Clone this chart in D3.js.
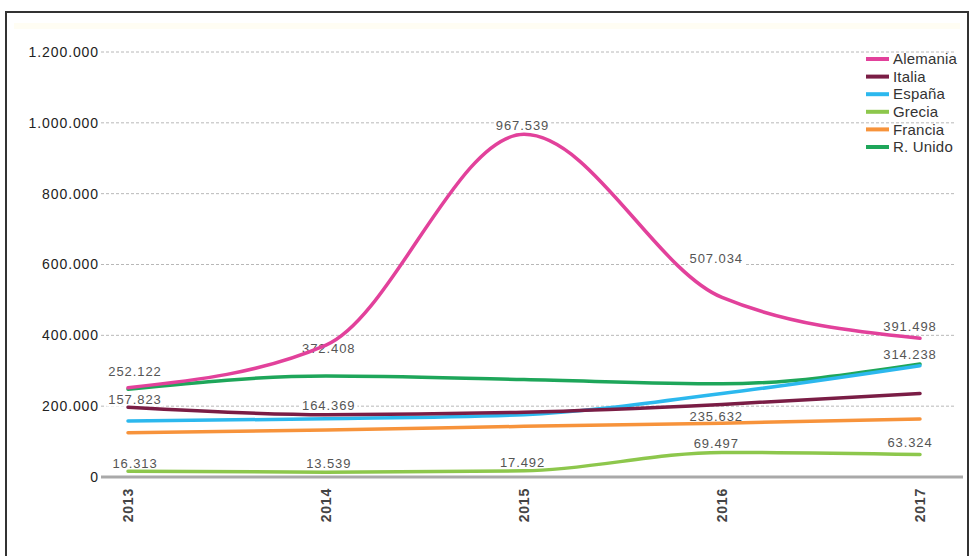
<!DOCTYPE html>
<html>
<head>
<meta charset="utf-8">
<script src="https://cdn.jsdelivr.net/npm/d3@7"></script>
<style>
  html, body { margin: 0; padding: 0; background: #fff; }
  svg { display: block; font-family: "Liberation Sans", Arial, sans-serif; }
</style>
</head>
<body>
<svg id="chart" width="970" height="556"></svg>
<script>
// ---- data ----
const years = ["2013", "2014", "2015", "2016", "2017"];
const seriesNames = ["Alemania", "Italia", "España", "Grecia", "Francia", "R. Unido"];
const alemania = [252122, 372408, 967539, 507034, 391498];
const italia   = [197000, 176000, 183000, 205000, 236000];
const espana   = [157823, 164369, 176000, 235632, 314238];
const grecia   = [16313, 13539, 17492, 69497, 63324];
const francia  = [125000, 133000, 143000, 152000, 164000];
const rUnido   = [248000, 285000, 275000, 263000, 319000];
const yTicks   = [0, 200000, 400000, 600000, 800000, 1000000, 1200000];
const labeledSeries = ["Alemania", "España", "Grecia"];
const labelSkip = { "España": ["2015"] };

// ---- styles / layout ----
const colors = {
  "Alemania": "#e2419b", "Italia": "#7a1d45", "España": "#2cb8ee",
  "Grecia": "#8dc74c", "Francia": "#f7933b", "R. Unido": "#1ea65a"
};
const labelDy = {
  "Alemania": [-16, 3, -9, -39, -12],
  "España":   [-22, -13, 0, 23, -11],
  "Grecia":   [-8, -9, -8, -9, -12]
};

const valuesByName = {
  "Alemania": alemania, "Italia": italia, "España": espana,
  "Grecia": grecia, "Francia": francia, "R. Unido": rUnido
};
const series = seriesNames.map(n => ({ name: n, values: valuesByName[n] }));

const svg = d3.select("#chart");
const loc = d3.formatLocale({ decimal: ",", thousands: ".", grouping: [3], currency: ["", ""] });
const fmt = loc.format(",d");

const x = d3.scalePoint().domain(years).range([128, 920]);
const xLabel = d3.scalePoint().domain(years).range([135, 910]);
const y = d3.scaleLinear().domain([0, 1200000]).range([477, 52]);

// frame
svg.append("rect").attr("x", 6).attr("y", 12).attr("width", 962).attr("height", 560)
  .attr("fill", "none").attr("stroke", "#333").attr("stroke-width", 2);
svg.append("rect").attr("x", 14).attr("y", 23).attr("width", 946).attr("height", 6)
  .attr("fill", "#fffdf3");

// gridlines
svg.append("g").selectAll("line").data(yTicks.filter(d => d > 0)).join("line")
  .attr("x1", 101).attr("x2", 955)
  .attr("y1", d => y(d)).attr("y2", d => y(d))
  .attr("stroke", "#b8b8b8").attr("stroke-width", 1).attr("stroke-dasharray", "3,2");

// y axis labels
const yAxis = d3.axisLeft(y).tickValues(yTicks).tickFormat(d => fmt(d)).tickSize(0).tickPadding(0);
const yg = svg.append("g").attr("transform", "translate(99,0)").call(yAxis);
yg.select(".domain").remove();
yg.selectAll("text").attr("font-size", 14).attr("fill", "#222")
  .attr("letter-spacing", "0.9px").attr("font-family", "Liberation Sans, Arial, sans-serif");

// baseline
svg.append("line").attr("x1", 101).attr("x2", 963).attr("y1", y(0)).attr("y2", y(0))
  .attr("stroke", "#a9a9a9").attr("stroke-width", 3);

// x axis labels
const xAxis = d3.axisBottom(x).tickSize(0).tickPadding(0);
const xg = svg.append("g").attr("transform", "translate(0,488)").call(xAxis);
xg.select(".domain").remove();
xg.selectAll("text")
  .attr("transform", "rotate(-90)")
  .attr("text-anchor", "end").attr("dy", "0.35em").attr("y", 0).attr("x", 0)
  .attr("font-size", 14).attr("font-weight", "bold").attr("fill", "#444")
  .attr("letter-spacing", "0.8px").attr("font-family", "Liberation Sans, Arial, sans-serif");
xg.selectAll(".tick").attr("transform", d => `translate(${x(d)},0)`);

// data labels (behind lines, with white backgrounds)
const labelG = svg.append("g");
labeledSeries.forEach(name => {
  const vals = valuesByName[name];
  years.forEach((yr, i) => {
    if (labelSkip[name] && labelSkip[name].includes(yr)) return;
    const cx = xLabel(yr);
    const cy = y(vals[i]) + labelDy[name][i];
    const t = labelG.append("text").attr("x", cx).attr("y", cy)
      .attr("dy", "0.35em").attr("text-anchor", "middle")
      .attr("font-size", 13).attr("fill", "#555").attr("letter-spacing", "0.9px")
      .text(fmt(vals[i]));
    const bb = t.node().getBBox();
    labelG.insert("rect", "text").attr("x", bb.x - 2).attr("y", bb.y).attr("width", bb.width + 4)
      .attr("height", bb.height).attr("fill", "#fff");
  });
});
labelG.selectAll("text").raise();

// lines
const line = d3.line().x((d, i) => x(years[i])).y(d => y(d)).curve(d3.curveMonotoneX);
svg.append("g").selectAll("path").data(series.slice().reverse()).join("path")
  .attr("d", d => line(d.values))
  .attr("fill", "none").attr("stroke", d => colors[d.name])
  .attr("stroke-width", 3.5).attr("stroke-linecap", "round");

// legend
const lg = svg.append("g");
series.forEach((s, i) => {
  const ly = 59 + i * 17.6;
  lg.append("line").attr("x1", 866).attr("x2", 889).attr("y1", ly).attr("y2", ly)
    .attr("stroke", colors[s.name]).attr("stroke-width", 4);
  lg.append("text").attr("x", 893).attr("y", ly).attr("dy", "0.35em")
    .attr("font-size", 15).attr("fill", "#333").attr("letter-spacing", "0.2px")
    .text(s.name);
});
</script>
</body>
</html>
